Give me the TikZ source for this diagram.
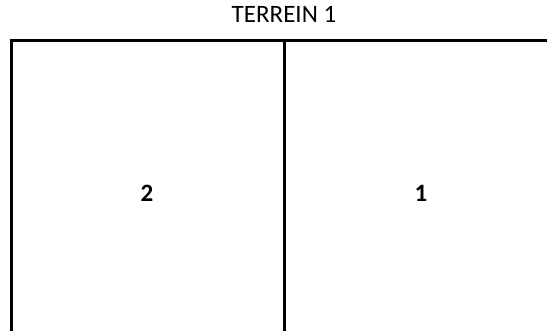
\documentclass[tikz,border=0pt]{standalone}
\usepackage{fontspec}
\setmainfont{Carlito}
\usepackage{tikz}
\usetikzlibrary{positioning}

\begin{document}
\begin{tikzpicture}[
    x=1pt, y=-1pt,
    plotline/.style={draw=black, line width=3pt},
    title/.style={font=\fontsize{25}{28}\selectfont, inner sep=0pt},
    plotlabel/.style={font=\fontsize{25}{28}\selectfont\bfseries, inner sep=0pt}
]
\useasboundingbox (0,0) rectangle (547,331);

% Terrain outline
\coordinate (nw) at (11,41);
\coordinate (ne) at (549,41);
\coordinate (sw) at (11,333);
\coordinate (mid_top) at (284,41);
\coordinate (mid_bot) at (284,333);

\draw[plotline] (sw) -- (nw) -- (ne);
\draw[plotline] (mid_top) -- (mid_bot);

% Title
\node[title] (terrein) at (284,14) {TERREIN 1};

% Plots
\node[plotlabel] (plot2) at (147,193) {2};
\node[plotlabel] (plot1) at (421,193) {1};

\end{tikzpicture}
\end{document}
